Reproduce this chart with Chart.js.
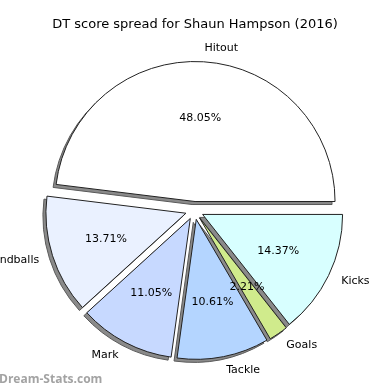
<!DOCTYPE html>
<html>
<head>
<meta charset="utf-8">
<script src="https://cdn.jsdelivr.net/npm/chart.js@4"></script>
<style>
  html, body { margin: 0; padding: 0; background: #fff; }
  #wrap { width: 390px; height: 390px; }
</style>
</head>
<body>
<div id="wrap"><canvas id="myChart" width="390" height="390"></canvas></div>
<script>
// data (clockwise from 3 o'clock)
const categories = ["Kicks", "Goals", "Tackle", "Mark", "Handballs", "Hitout"];
const shares = [14.37, 2.21, 10.61, 11.05, 13.71, 48.05];
const sliceColors = ["#d8ffff", "#d0eb8c", "#b4d5ff", "#c7d9ff", "#eaf1ff", "#ffffff"];

const titleText = "DT score spread for Shaun Hampson (2016)";
const FONT = "'DejaVu Sans', sans-serif";
const EXPLODE = 9;

// push every slice out from the centre (matplotlib style explode)
const explodePlugin = {
  id: "explode",
  afterDatasetsUpdate(chart) {
    const meta = chart.getDatasetMeta(0);
    meta.data.forEach((arc) => {
      const mid = (arc.startAngle + arc.endAngle) / 2;
      arc.x += Math.cos(mid) * EXPLODE;
      arc.y += Math.sin(mid) * EXPLODE;
    });
  },
};

// grey shadow under every slice, drawn before the slices
const shadowPlugin = {
  id: "shadow",
  beforeDatasetsDraw(chart) {
    const ctx = chart.ctx;
    const meta = chart.getDatasetMeta(0);
    ctx.save();
    meta.data.forEach((arc) => {
      const cx = arc.x - 3;
      const cy = arc.y + 3;
      ctx.beginPath();
      ctx.moveTo(cx, cy);
      ctx.arc(cx, cy, arc.outerRadius, arc.startAngle, arc.endAngle);
      ctx.closePath();
      ctx.fillStyle = "#8a8a8a";
      ctx.fill();
      ctx.lineWidth = 1;
      ctx.strokeStyle = "#5a5a5a";
      ctx.stroke();
    });
    ctx.restore();
  },
};

// labels, percentages, title, watermark
const textPlugin = {
  id: "texts",
  afterDatasetsDraw(chart) {
    const ctx = chart.ctx;
    const meta = chart.getDatasetMeta(0);
    ctx.save();
    ctx.fillStyle = "#000";
    ctx.textBaseline = "middle";
    ctx.font = "11px " + FONT;
    meta.data.forEach((arc, i) => {
      const mid = (arc.startAngle + arc.endAngle) / 2;
      const r = arc.outerRadius;
      ctx.textAlign = "center";
      ctx.fillText(shares[i].toFixed(2) + "%", arc.x + Math.cos(mid) * r * 0.6, arc.y + Math.sin(mid) * r * 0.6);
      const lx = arc.x + Math.cos(mid) * r * 1.1;
      const ly = arc.y + Math.sin(mid) * r * 1.1;
      ctx.textAlign = Math.cos(mid) > 0 ? "left" : "right";
      ctx.fillText(categories[i], lx, ly);
    });

    ctx.textAlign = "center";
    ctx.font = "13px " + FONT;
    ctx.fillText(titleText, 195, 25);

    ctx.textAlign = "left";
    ctx.font = "bold 12px 'Open Sans', sans-serif";
    ctx.fillStyle = "#a3a3a3";
    ctx.fillText("Dream-Stats.com", -1, 380);
    ctx.restore();
  },
};

const ctx = document.getElementById("myChart");

new Chart(ctx, {
  type: "pie",
  data: {
    labels: categories,
    datasets: [
      {
        data: shares,
        backgroundColor: sliceColors,
        borderColor: "#222",
        borderWidth: 1,
        offset: 0,
        hoverOffset: 0,
      },
    ],
  },
  options: {
    responsive: false,
    animation: false,
    rotation: 90,
    radius: 140,
    events: [],
    layout: {
      padding: { left: 49.5, right: 50.5, top: 65.5, bottom: 34.5 },
    },
    plugins: {
      legend: { display: false },
      tooltip: { enabled: false },
      title: { display: false },
    },
  },
  plugins: [explodePlugin, shadowPlugin, textPlugin],
});
</script>
</body>
</html>
